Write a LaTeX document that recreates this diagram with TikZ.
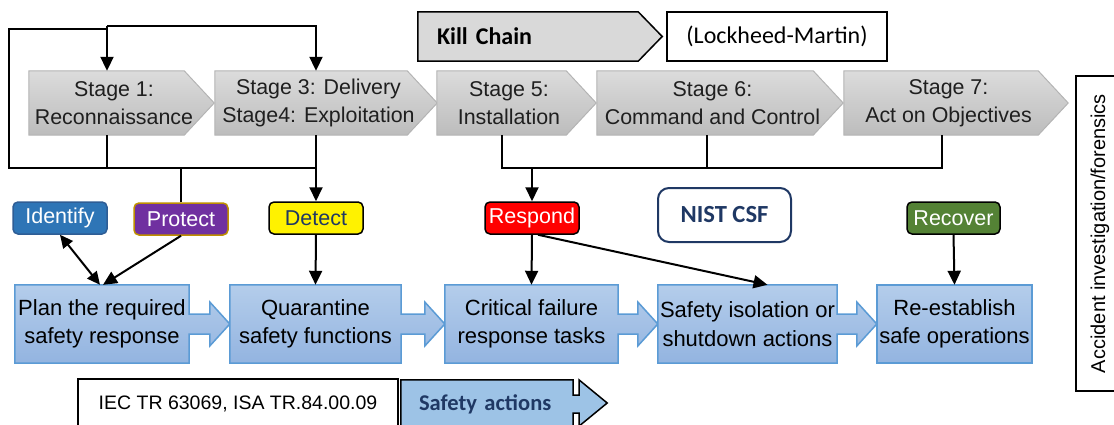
\documentclass[tikz,border=0pt]{standalone}
\usepackage{fontspec}
\setmainfont{Liberation Sans}
\newfontfamily\calibri{Carlito}
\usetikzlibrary{arrows.meta,calc}

\definecolor{chevtop}{HTML}{DCDCDC}
\definecolor{chevbot}{HTML}{BCBCBC}
\definecolor{chevedge}{HTML}{B4B4B4}
\definecolor{kcfill}{HTML}{D9D9D9}
\definecolor{flowtop}{HTML}{B4CDEB}
\definecolor{flowbot}{HTML}{93B4E0}
\definecolor{flowedge}{HTML}{5B9BD5}
\definecolor{safill}{HTML}{9DC3E6}
\definecolor{navy}{HTML}{1F3864}
\definecolor{idfill}{HTML}{2E75B6}
\definecolor{idedge}{HTML}{2E5D95}
\definecolor{prfill}{HTML}{7030A0}
\definecolor{predge}{HTML}{BF9000}
\definecolor{rcfill}{HTML}{548235}

\pgfdeclarelayer{bg}
\pgfsetlayers{bg,main}

% pentagon arrow around a stage node (the node spans the body plus half the tip)
\newcommand\chevronpath[1]{%
  \path[chevshape] (#1.north west) -- ($(#1.north east)+(-15,0)$)
    -- ($(#1.east)+(15,0)$) -- ($(#1.south east)+(-15,0)$)
    -- (#1.south west) -- cycle;}
% box with a block arrow pointing at the next box
\newcommand\flowpath[2]{%
  \path[flowshape] (#1.north west) -- (#1.north east) -- ($(#1.east)+(0,-10)$)
    -- ($(#2.west)+(-20,-10)$) -- ($(#2.west)+(-20,-22)$) -- (#2.west)
    -- ($(#2.west)+(-20,22)$) -- ($(#2.west)+(-20,10)$) -- ($(#1.east)+(0,10)$)
    -- (#1.south east) -- (#1.south west) -- cycle;}

\begin{document}
\begin{tikzpicture}[x=1pt,y=-1pt,
  chevtext/.style={minimum height=64pt, inner sep=0pt, align=center,
    font=\fontsize{21.4}{28}\selectfont, text=black!88},
  chevshape/.style={shade, top color=chevtop, bottom color=chevbot,
    draw=chevedge, line width=1pt},
  flowbox/.style={minimum height=78pt, inner sep=0pt, align=center,
    font=\fontsize{22}{28.5}\selectfont},
  flowshape/.style={shade, top color=flowtop, bottom color=flowbot,
    draw=flowedge, line width=1.5pt},
  tag/.style={minimum width=94pt, minimum height=32pt, inner sep=0pt,
    rounded corners=5pt, line width=1.5pt, text=white,
    font=\fontsize{21.5}{24}\selectfont},
  conn/.style={line width=2pt, black},
  arrow/.style={conn, -{Triangle[length=14pt,width=13pt]}},
  dblarrow/.style={conn, {Triangle[length=13pt,width=12pt]}-{Triangle[length=13pt,width=12pt]}}
]
\useasboundingbox (0,0) rectangle (1114,425);
\clip (0,0) rectangle (1114,425);

% kill chain stages
\node[chevtext, minimum width=170pt] (s1) at (114,103) {Stage 1:\\Reconnaissance};
\node[chevtext, minimum width=207pt] (s3) at (318.5,103) {Stage 3: Delivery\\Stage4: Exploitation};
\node[chevtext, minimum width=144pt] (s5) at (509,103) {Stage 5:\\Installation};
\node[chevtext, minimum width=231pt] (s6) at (712.5,103) {Stage 6:\\Command and Control};
\node[chevtext, minimum width=209pt] (s7) at (948.5,103) {Stage 7:\\Act on Objectives};

% legend of the upper row
\node[minimum height=49pt, inner ysep=0pt, inner xsep=19pt, text width=182pt, align=left,
  font=\calibri\bfseries\fontsize{24}{28}\selectfont] (kc) at (528,36.5) {Kill Chain};
\node[draw=black, line width=1.5pt, fill=white, minimum width=220pt, minimum height=49pt,
  inner sep=0pt, font=\calibri\fontsize{24}{28}\selectfont] (lm) at (777,36.5) {(Lockheed-Martin)};

% NIST CSF functions
\node[tag, fill=idfill, draw=idedge] (ide) at (60,218) {Identify};
\node[tag, fill=prfill, draw=predge] (pro) at (181,219) {Protect};
\node[tag, fill=yellow, draw=black, text=navy] (det) at (316,218) {Detect};
\node[tag, fill=red, draw=black] (res) at (532,218) {Respond};
\node[tag, fill=rcfill, draw=black, minimum width=93pt] (rec) at (953.5,218) {Recover};
\node[draw=navy, line width=2pt, rounded corners=11pt, fill=white, minimum width=133pt,
  minimum height=54pt, inner sep=0pt, text=navy,
  font=\calibri\bfseries\fontsize{24.6}{28}\selectfont] (nist) at (724.5,215) {NIST CSF};

% safety actions
\node[flowbox, minimum width=174pt] (plan) at (102,324) {Plan the required\\safety response};
\node[flowbox, minimum width=171pt] (qua) at (315.5,324) {Quarantine\\safety functions};
\node[flowbox, minimum width=173pt] (crit) at (531.5,324) {Critical failure\\response tasks};
\node[flowbox, minimum width=179pt] (iso) at (747.5,324) {Safety isolation or\\shutdown actions};
\node[flowbox, minimum width=155pt] (reest) at (954.5,324) {Re-establish\\safe operations};

% legend of the lower row
\node[draw=black, line width=1.5pt, fill=white, minimum width=320pt, minimum height=50pt,
  inner sep=0pt, font=\fontsize{19.5}{24}\selectfont] (iec) at (238,404) {IEC TR 63069, ISA TR.84.00.09};
\node[minimum height=48pt, inner ysep=0pt, inner xsep=18pt, text width=136pt, align=left,
  text=navy, font=\calibri\bfseries\fontsize{22.5}{26}\selectfont] (sa) at (487,404) {Safety actions};

% side box, running off the right edge
\node[draw=black, line width=1.5pt, minimum width=48pt, minimum height=315pt, inner sep=0pt,
  font=\fontsize{20}{24}\selectfont] (acc) at (1100,233.5) {\rotatebox{90}{Accident investigation/forensics}};

\begin{pgfonlayer}{bg}
  \clip (0,0) rectangle (1114,425);
  \chevronpath{s1}
  \chevronpath{s3}
  \chevronpath{s5}
  \chevronpath{s6}
  \chevronpath{s7}
  \path[fill=kcfill, draw=black, line width=1.5pt] (kc.north west) -- (kc.north east)
    -- ($(kc.east)+(24,0)$) -- (kc.south east) -- (kc.south west) -- cycle;
  \flowpath{plan}{qua}
  \flowpath{qua}{crit}
  \flowpath{crit}{iso}
  \flowpath{iso}{reest}
  \path[flowshape] (reest.north west) rectangle (reest.south east);
  \path[fill=safill, draw=black, line width=1.5pt] (sa.north west) -- (sa.north east)
    -- ($(sa.east)+(0,-9)$) -- ($(sa.east)+(6,-9)$) -- ($(sa.east)+(6,-24)$)
    -- ($(sa.east)+(34,-1)$) -- ($(sa.east)+(6,22)$) -- ($(sa.east)+(6,9)$)
    -- ($(sa.east)+(0,9)$) -- (sa.south east) -- (sa.south west) -- cycle;
\end{pgfonlayer}

% connection points on the stages
\coordinate (s1t) at ($(s1.north)+(-7,0)$);
\coordinate (s1b) at ($(s1.south)+(-7,0)$);
\coordinate (s3t) at (s3.north -| det.north);
\coordinate (s3b) at (s3.south -| det.north);
\coordinate (s5b) at ($(s5.south)+(-7,0)$);
\coordinate (s6b) at ($(s6.south)+(-6,0)$);
\coordinate (s7b) at ($(s7.south)+(-6.5,0)$);
\coordinate (loopT) at (9,29);
\coordinate (busL) at (9,168);
\coordinate (feed) at ($(s1t)+(0,-45)$);

% feedback loop over stages 1 to 4
\draw[conn] (s1b) |- (busL) -- (loopT) -- (loopT -| s1t);
\draw[arrow] (feed) -- (s1t);
\draw[arrow] (feed) -- (feed -| s3t) -- (s3t);
\draw[conn] (busL) -- (busL -| s3b);
\draw[arrow] (s3b) -- (det.north);
\draw[conn] (pro.north) -- (pro.north |- busL);

% stages 5 to 7 feed the response
\draw[conn] (s5b) |- (s7b |- busL) -- (s7b);
\draw[conn] (s6b) -- (s6b |- busL);
\draw[arrow] (res.north |- busL) -- (res.north);

% functions into the safety actions
\draw[dblarrow] (ide.south) -- ($(plan.north)+(-2,0)$);
\draw[arrow] (pro.south) -- ($(plan.north)+(1,0)$);
\draw[arrow] (det.south) -- (qua.north);
\draw[arrow] (res.south) -- (crit.north);
\draw[arrow] ($(res.south)+(6,0)$) -- ($(iso.north)+(20,0)$);
\draw[arrow] (rec.south) -- (reest.north);
\end{tikzpicture}
\end{document}
